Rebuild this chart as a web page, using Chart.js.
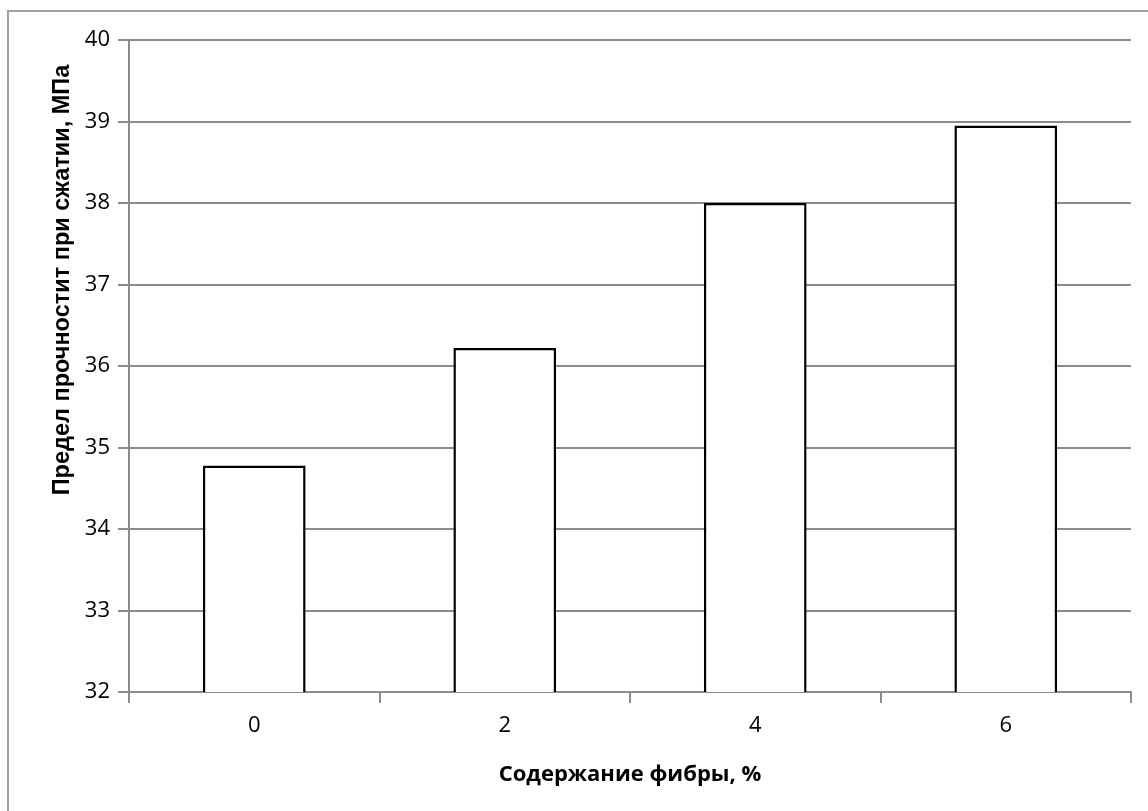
<!DOCTYPE html>
<html>
<head>
<meta charset="utf-8">
<script src="https://cdn.jsdelivr.net/npm/chart.js@4/dist/chart.umd.min.js"></script>
<style>
html,body{margin:0;padding:0;background:#fff;overflow:hidden;}
#wrap{position:relative;width:1148px;height:811px;}
</style>
</head>
<body>
<div id="wrap"><canvas id="c" width="1148" height="811"></canvas></div>
<script>
const categories = ["0", "2", "4", "6"];
const strength = [34.78, 36.22, 38.0, 38.95];
const yTitle = "Предел прочностит при сжатии, МПа";
const xTitle = "Содержание фибры, %";

const gridColor = "#8c8c8c";

const decor = {
  id: "decor",
  beforeDraw(chart) {
    const ctx = chart.ctx;
    ctx.save();
    ctx.fillStyle = "#fff";
    ctx.fillRect(0, 0, chart.width, chart.height);
    ctx.strokeStyle = "#a0a0a0";
    ctx.lineWidth = 2;
    ctx.beginPath();
    ctx.moveTo(8, chart.height + 5);
    ctx.lineTo(8, 11);
    ctx.lineTo(chart.width + 5, 11);
    ctx.stroke();
    ctx.restore();
  },
  afterDraw(chart) {
    const ctx = chart.ctx;
    const area = chart.chartArea;
    ctx.save();
    ctx.fillStyle = "#000";
    ctx.textAlign = "center";
    ctx.textBaseline = "middle";
    ctx.font = "bold 22px 'Open Sans'";
    ctx.fillText(xTitle, (area.left + area.right) / 2, 775);
    ctx.translate(63, 280);
    ctx.rotate(-Math.PI / 2);
    ctx.font = "bold 23.5px 'Liberation Sans'";
    ctx.fillText(yTitle, 0, 0);
    ctx.restore();
  }
};

new Chart(document.getElementById("c"), {
  type: "bar",
  data: {
    labels: categories,
    datasets: [{
      data: strength,
      backgroundColor: "#ffffff",
      borderColor: "#000000",
      borderWidth: 2.5,
      barPercentage: 0.41,
      categoryPercentage: 1.0
    }]
  },
  options: {
    responsive: false,
    animation: false,
    devicePixelRatio: 1,
    layout: { padding: { top: 40, right: 17, left: 0, bottom: 0 } },
    plugins: { legend: { display: false }, tooltip: { enabled: false } },
    scales: {
      x: {
        offset: true,
        grid: { offset: true, drawOnChartArea: false, drawTicks: true, tickLength: 11, color: gridColor, lineWidth: 2 },
        border: { color: gridColor, width: 2 },
        ticks: { color: "#000", font: { family: "'Open Sans'", size: 22 }, padding: 10 },
        afterFit(s) { s.height = 119; }
      },
      y: {
        min: 32, max: 40,
        ticks: { stepSize: 1, color: "#000", font: { family: "'Open Sans'", size: 22 }, padding: 8 },
        grid: { color: gridColor, lineWidth: 2, tickLength: 11 },
        border: { color: gridColor, width: 2 },
        afterFit(s) { s.width = 129; }
      }
    }
  },
  plugins: [decor]
});
</script>
</body>
</html>
